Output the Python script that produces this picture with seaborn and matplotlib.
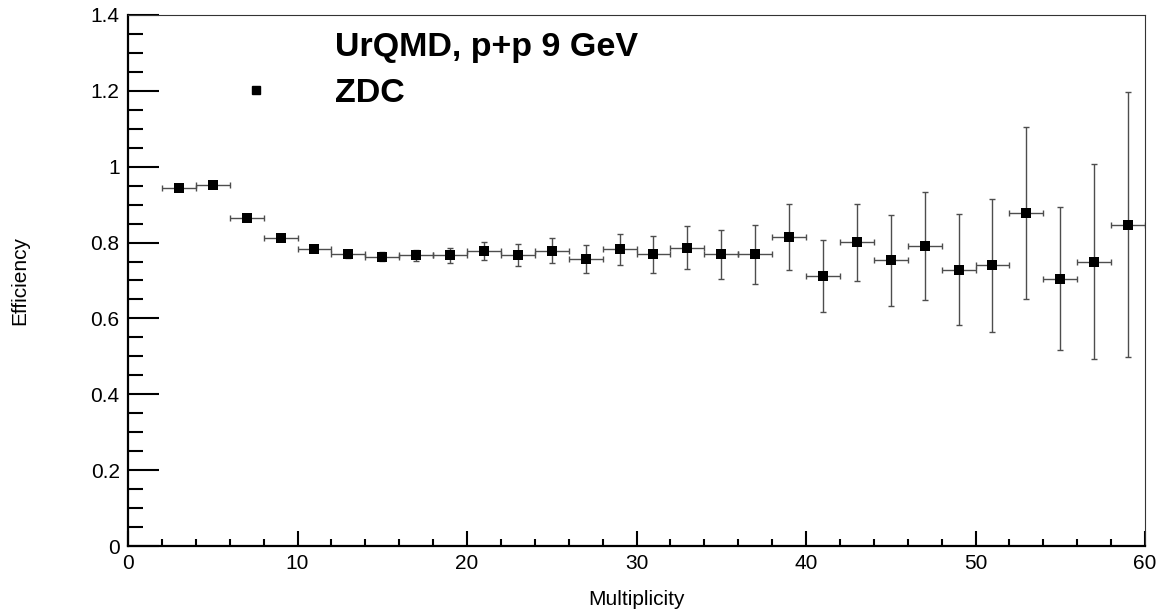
import numpy as np
import pandas as pd
import matplotlib
matplotlib.use("Agg")
import matplotlib.pyplot as plt
from matplotlib.lines import Line2D
from matplotlib.ticker import MultipleLocator, FormatStrFormatter
import seaborn as sns

# ---- data ----
multiplicity = [3, 5, 7, 9, 11, 13, 15, 17, 19, 21, 23, 25, 27, 29, 31,
                33, 35, 37, 39, 41, 43, 45, 47, 49, 51, 53, 55, 57, 59]
efficiency = [0.944, 0.951, 0.866, 0.811, 0.784, 0.769, 0.763, 0.766, 0.767,
              0.777, 0.767, 0.779, 0.757, 0.782, 0.769, 0.787, 0.769, 0.769,
              0.815, 0.711, 0.801, 0.754, 0.791, 0.729, 0.740, 0.877, 0.705,
              0.750, 0.847]
eff_err = [0.004, 0.004, 0.005, 0.005, 0.006, 0.010, 0.011, 0.015, 0.020,
           0.024, 0.028, 0.032, 0.036, 0.040, 0.048, 0.057, 0.064, 0.077,
           0.088, 0.095, 0.102, 0.120, 0.143, 0.147, 0.176, 0.227, 0.189,
           0.257, 0.349]
bin_half_width = [1.0] * len(multiplicity)
legend_title = "UrQMD, p+p 9 GeV"
series_name = "ZDC"
x_label = "Multiplicity"
y_label = "Efficiency"

df = pd.DataFrame({"Multiplicity": multiplicity, "Efficiency": efficiency,
                   "err": eff_err, "xerr": bin_half_width})

sns.set_style("white")
plt.rcParams["font.family"] = ["Liberation Sans", "DejaVu Sans"]
plt.rcParams["text.color"] = "black"
plt.rcParams["axes.labelcolor"] = "black"
plt.rcParams["xtick.color"] = "black"
plt.rcParams["ytick.color"] = "black"

fig = plt.figure(figsize=(11.68, 6.14), dpi=100)
ax = fig.add_axes([128 / 1168, 1 - 546 / 614, (1145 - 128) / 1168, (546 - 15) / 614])

ax.errorbar(df["Multiplicity"], df["Efficiency"], yerr=df["err"], xerr=df["xerr"],
            fmt="none", ecolor="0.3", elinewidth=1.0, capsize=2, capthick=1.0, zorder=2)
sns.scatterplot(data=df, x="Multiplicity", y="Efficiency", marker="s", s=52,
                color="black", edgecolor="black", linewidth=0, ax=ax, zorder=3,
                legend=False)

ax.set_xlim(0, 60)
ax.set_ylim(0, 1.4)
ax.xaxis.set_major_locator(MultipleLocator(10))
ax.xaxis.set_minor_locator(MultipleLocator(2))
ax.yaxis.set_major_locator(MultipleLocator(0.2))
ax.yaxis.set_minor_locator(MultipleLocator(0.05))
ax.yaxis.set_major_formatter(FormatStrFormatter("%g"))

ax.tick_params(axis="both", which="both", direction="in", top=False, right=False,
               bottom=True, left=True, color="black", labelcolor="black", width=1.5)
ax.tick_params(axis="x", which="major", length=11, labelsize=15, pad=6)
ax.tick_params(axis="x", which="minor", length=5)
ax.tick_params(axis="y", which="major", length=22, labelsize=15, pad=6)
ax.tick_params(axis="y", which="minor", length=11)

for side in ["left", "bottom"]:
    ax.spines[side].set_linewidth(1.6)
    ax.spines[side].set_color("black")
for side in ["top", "right"]:
    ax.spines[side].set_linewidth(0.8)
    ax.spines[side].set_color("0.2")

ax.set_xlabel(x_label, fontsize=15, color="black")
ax.set_ylabel(y_label, fontsize=15, color="black")
ax.xaxis.set_label_coords(0.5, -0.083)
ax.yaxis.set_label_coords(-0.097, 0.5)

handles = [Line2D([], [], linestyle="none"),
           Line2D([], [], linestyle="none", marker="s", markersize=6,
                  color="black")]
leg = ax.legend(handles, [legend_title, series_name], loc="upper left",
                bbox_to_anchor=(222 / 1168, 1 - 32 / 614),
                bbox_transform=fig.transFigure, frameon=False,
                prop={"weight": "bold", "size": 24.5}, handlelength=2.0,
                handletextpad=1.33, labelspacing=0.45, borderpad=0,
                borderaxespad=0)
for t in leg.get_texts():
    t.set_color("black")

fig.savefig("out.png", dpi=100)
